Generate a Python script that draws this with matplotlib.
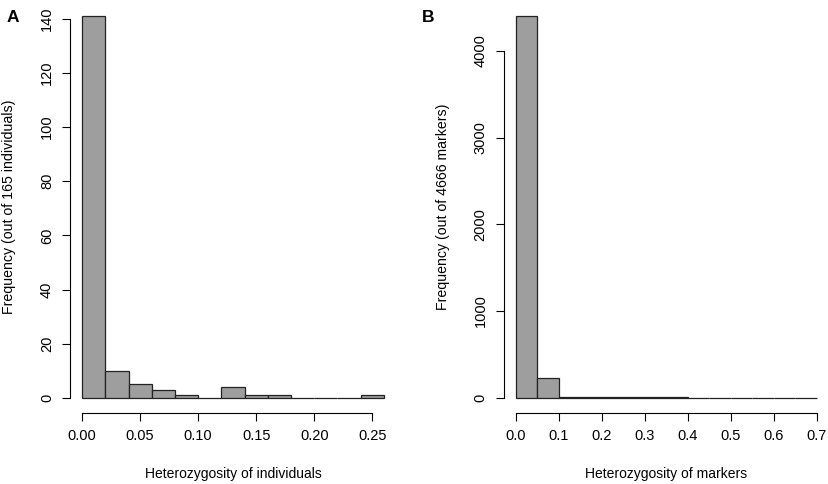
import numpy as np
import matplotlib
matplotlib.use("Agg")
import matplotlib.pyplot as plt

plt.rcParams['font.family'] = ['Liberation Sans', 'DejaVu Sans']

# Panel A: heterozygosity of individuals (bins of 0.02)
ind_edges = [0.00, 0.02, 0.04, 0.06, 0.08, 0.10, 0.12, 0.14, 0.16, 0.18, 0.20, 0.22, 0.24, 0.26]
ind_counts = [141, 10, 5, 3, 1, 0, 4, 1, 1, 0, 0, 0, 1]
ind_xticks = [0.00, 0.05, 0.10, 0.15, 0.20, 0.25]
ind_xlabels = ["0.00", "0.05", "0.10", "0.15", "0.20", "0.25"]
ind_yticks = [0, 20, 40, 60, 80, 100, 120, 140]

# Panel B: heterozygosity of markers (bins of 0.05)
mk_edges = [0.00, 0.05, 0.10, 0.15, 0.20, 0.25, 0.30, 0.35, 0.40, 0.45, 0.50, 0.55, 0.60, 0.65, 0.70]
mk_counts = [4400, 230, 8, 3, 5, 10, 4, 3, 1, 1, 0, 0, 1, 0]
mk_xticks = [0.0, 0.1, 0.2, 0.3, 0.4, 0.5, 0.6, 0.7]
mk_xlabels = ["0.0", "0.1", "0.2", "0.3", "0.4", "0.5", "0.6", "0.7"]
mk_yticks = [0, 1000, 2000, 3000, 4000]

W, H = 829, 484
fig = plt.figure(figsize=(W / 100, H / 100), dpi=100)

bar_color = "#9e9e9e"


def r_hist(ax, edges, counts, xticks, xlabels, yticks, xlabel, ylabel, ylab_px, left_px, width_px):
    edges = np.array(edges)
    ax.bar(edges[:-1], counts, width=np.diff(edges), align="edge",
           color=bar_color, edgecolor="#222222", linewidth=0.9)
    # R style 4% padding around data range
    xr = edges[-1] - edges[0]
    ax.set_xlim(edges[0] - 0.04 * xr, edges[-1] + 0.04 * xr)
    ymax = max(counts)
    ax.set_ylim(-0.04 * ymax, ymax * 1.04)
    for s in ["top", "right"]:
        ax.spines[s].set_visible(False)
    ax.spines["left"].set_bounds(yticks[0], yticks[-1])
    ax.spines["bottom"].set_bounds(xticks[0], xticks[-1])
    ax.spines["left"].set_linewidth(0.8)
    ax.spines["bottom"].set_linewidth(0.8)
    ax.set_xticks(xticks)
    ax.set_xticklabels(xlabels)
    ax.set_yticks(yticks)
    ax.set_yticklabels([str(v) for v in yticks], rotation=90, va="center")
    ax.tick_params(axis="both", direction="out", length=5.5, width=0.8, labelsize=10.5, colors="black")
    ax.tick_params(axis="x", pad=6)
    ax.tick_params(axis="y", pad=6)
    ax.set_xlabel(xlabel, fontsize=10)
    ax.set_ylabel(ylabel, fontsize=10.2)
    ax.xaxis.set_label_coords(0.5, -(474 - 413) / 412, transform=ax.transAxes)
    ax.yaxis.set_label_coords((ylab_px - left_px) / width_px, 0.5, transform=ax.transAxes)
    ax.xaxis.label.set_va("center")
    ax.yaxis.label.set_va("center")


# pixel layout of the two plot boxes
top_px, bot_px = 1, 413
axA = fig.add_axes([70 / W, (H - bot_px) / H, 326 / W, (bot_px - top_px) / H])
axB = fig.add_axes([503.6 / W, (H - bot_px) / H, 325.4 / W, (bot_px - top_px) / H])

r_hist(axA, ind_edges, ind_counts, ind_xticks, ind_xlabels, ind_yticks,
       "Heterozygosity of individuals", "Frequency (out of 165 individuals)", 9, 70, 326)
r_hist(axB, mk_edges, mk_counts, mk_xticks, mk_xlabels, mk_yticks,
       "Heterozygosity of markers", "Frequency (out of 4666 markers)", 443, 503.6, 325.4)

fig.text(13 / W, 1 - 18 / H, "A", fontsize=12.5, fontweight="bold", ha="center", va="center")
fig.text(428 / W, 1 - 18 / H, "B", fontsize=12.5, fontweight="bold", ha="center", va="center")

fig.savefig("out.png", dpi=100)
